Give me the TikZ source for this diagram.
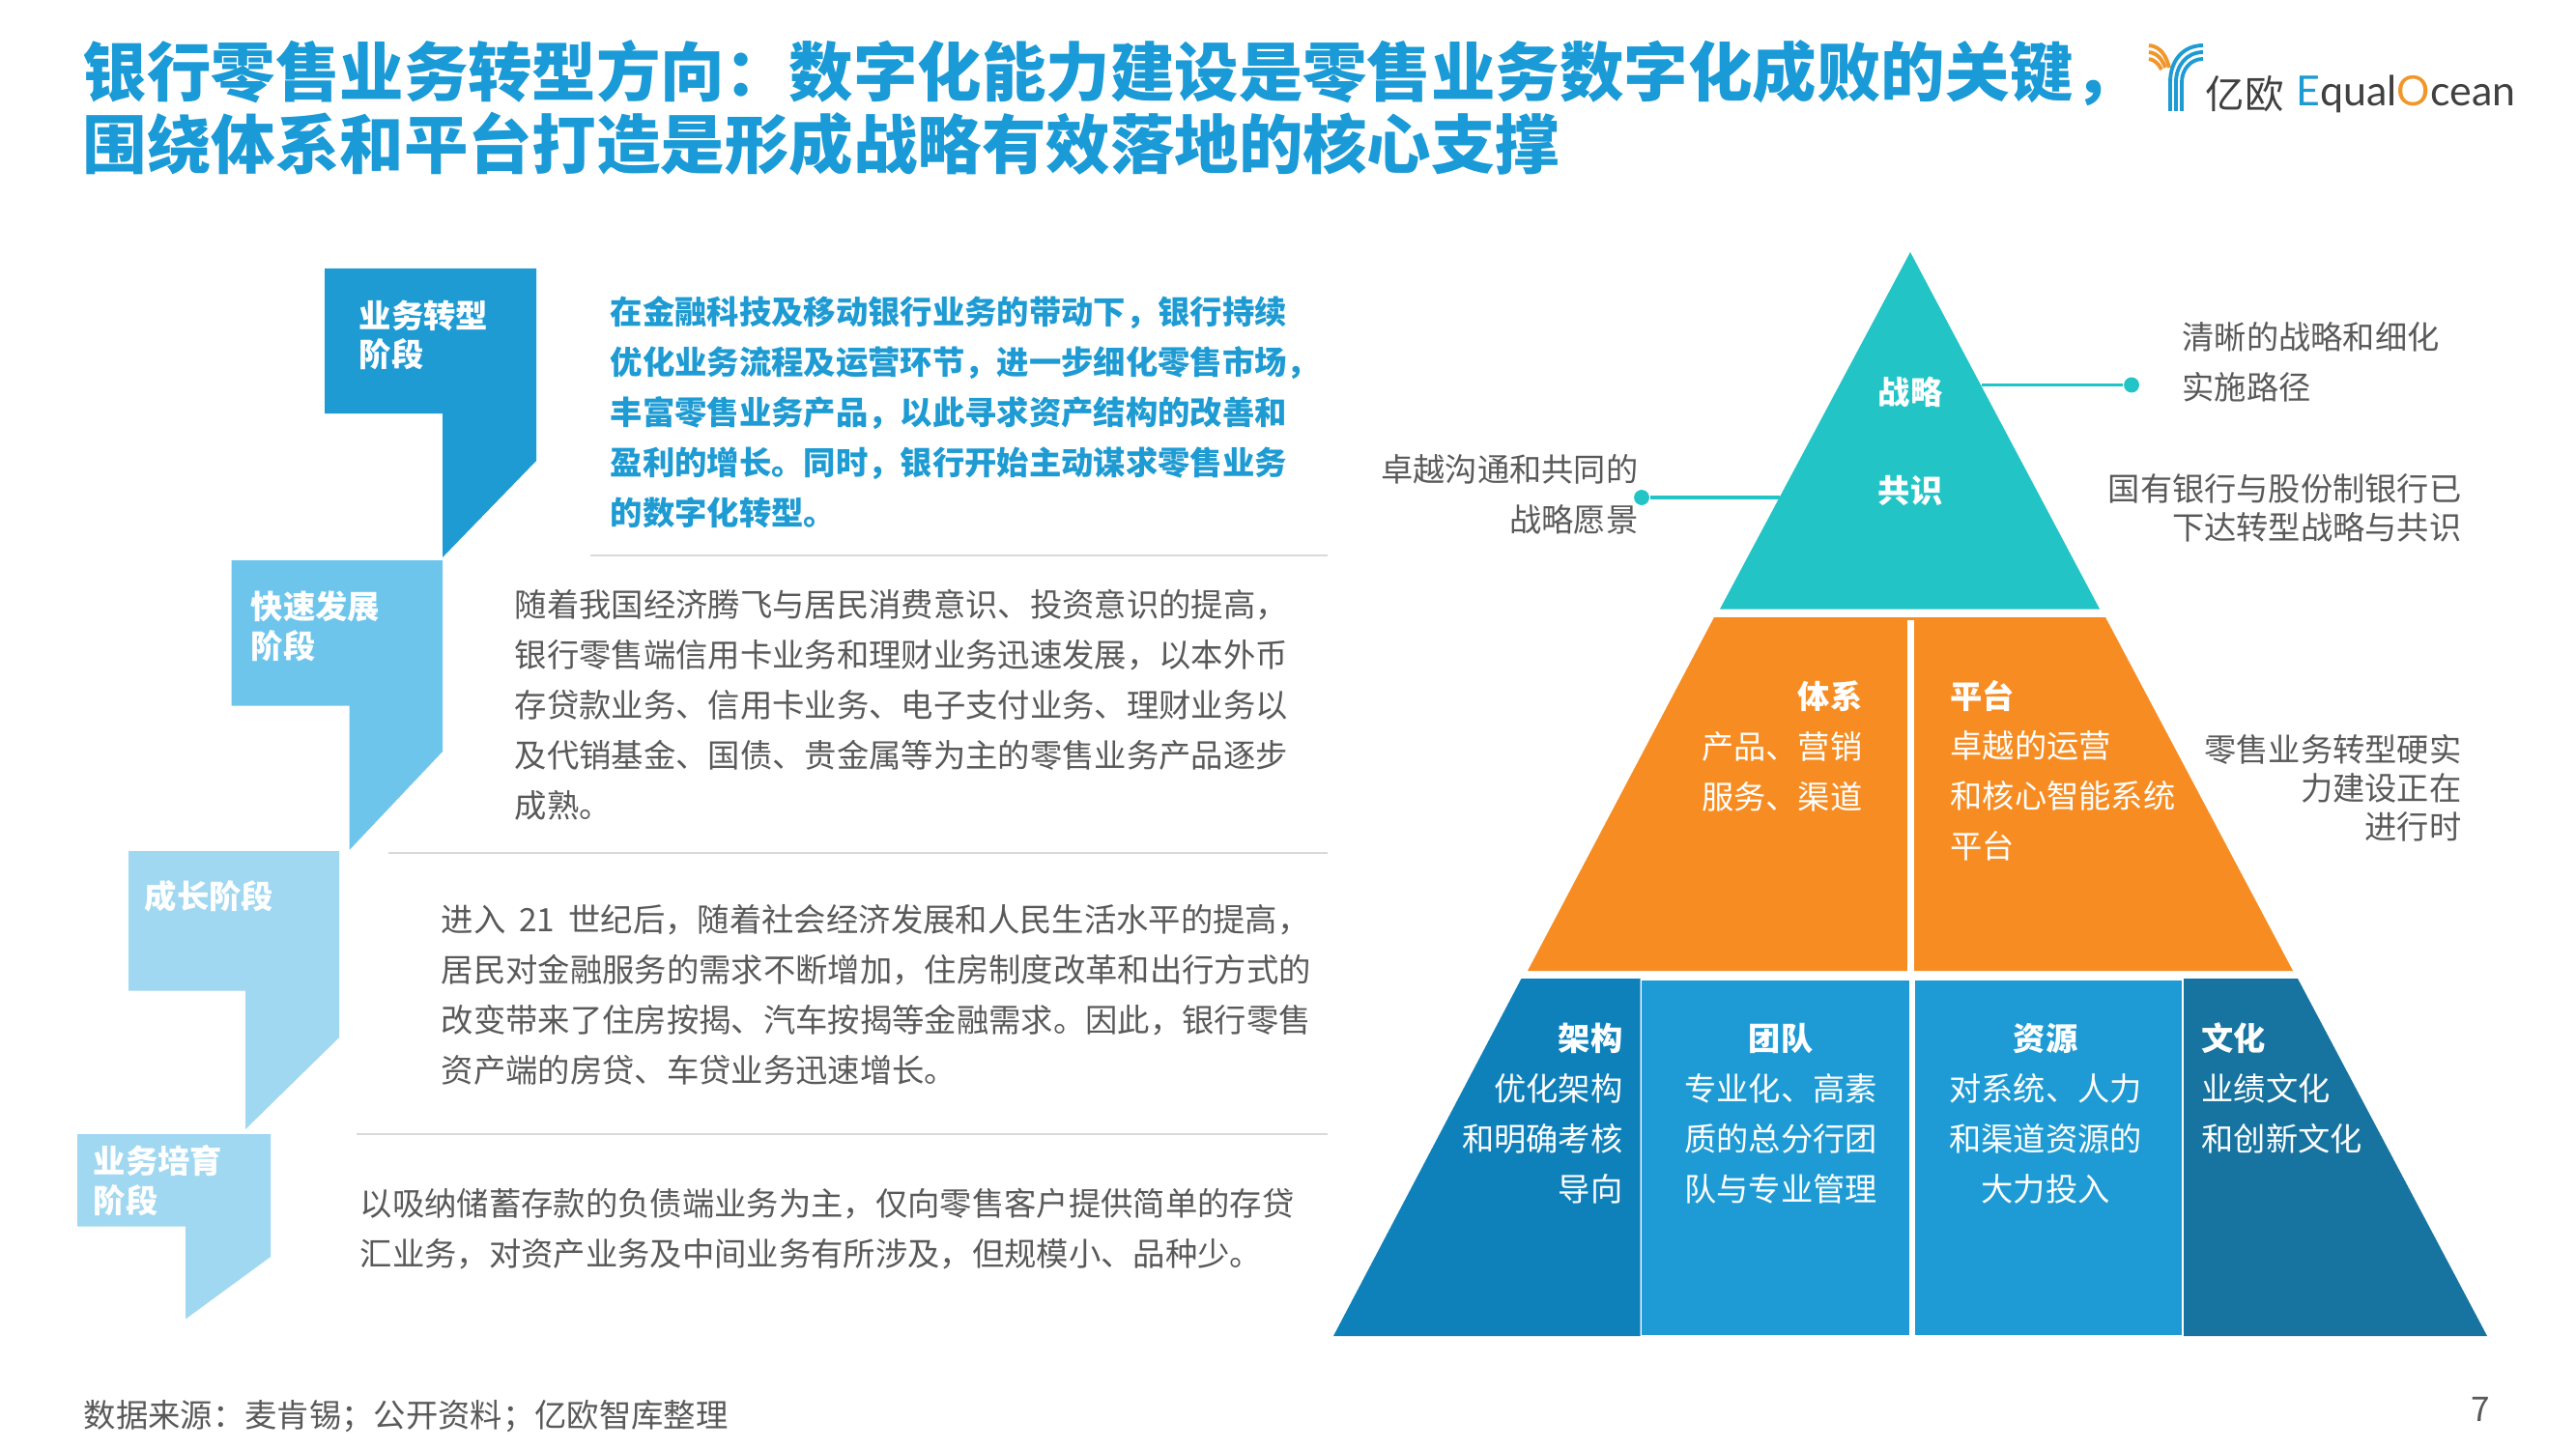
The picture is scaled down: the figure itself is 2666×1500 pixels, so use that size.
\documentclass[tikz,border=0pt]{standalone}
\usepackage{fontspec}
\setmainfont{Noto Sans CJK SC}
\newfontfamily\logofont{Lato}
\definecolor{titleblue}{HTML}{1A9AD6}
\definecolor{txtgray}{HTML}{595959}
\definecolor{stepa}{HTML}{1E9BD3}
\definecolor{stepb}{HTML}{6EC5EC}
\definecolor{stepc}{HTML}{A0D7F1}
\definecolor{topteal}{HTML}{22C4C6}
\definecolor{midorange}{HTML}{F78D22}
\definecolor{lowblue}{HTML}{1E9BD4}
\definecolor{lowleft}{HTML}{0F81BA}
\definecolor{lowright}{HTML}{17739F}
\definecolor{logoorange}{HTML}{F0962A}
\newcommand{\cnc}{^^^^ff0c}
\newcommand{\cnm}{^^^^ff1a}
\newcommand{\cns}{^^^^ff1b}
\tikzset{
  titletxt/.style={inner sep=0pt,anchor=west,align=left,color=titleblue,font=\fontsize{18.9}{21.3}\selectfont\bfseries},
  bodytxt/.style={inner sep=0pt,anchor=west,align=left,color=txtgray,font=\fontsize{9.48}{14.75}\selectfont},
  steptxt/.style={inner sep=0pt,anchor=west,align=left,color=white,font=\fontsize{9.48}{11.6}\selectfont\bfseries},
  sidetxt/.style={inner sep=0pt,color=txtgray,font=\fontsize{9.45}{14.75}\selectfont},
  tighttxt/.style={inner sep=0pt,anchor=east,align=right,color=txtgray,font=\fontsize{9.45}{11.4}\selectfont},
  pyrtxt/.style={inner sep=0pt,color=white,font=\fontsize{9.45}{14.75}\selectfont},
  pyrhead/.style={inner sep=0pt,color=white,font=\fontsize{9.45}{14.75}\selectfont\bfseries},
  rulegray/.style={color=black!15,line width=0.5pt},
  dotlink/.style={color=topteal,line width=1pt},
  enddot/.style={circle,fill=topteal,inner sep=0pt,minimum size=4.5pt},
  logoblue/.style={color=stepa,line width=1.1pt},
  logoarc/.style={color=logoorange,line width=1.1pt}
}
\begin{document}
\begin{tikzpicture}[x=0.01cm,y=-0.01cm]
    \useasboundingbox (0,0) rectangle (2666,1500);
    \fill [color=white] (0,0) rectangle (2666,1500);
    % title
    \node (headline) [titletxt] at (85,112) {银行零售业务转型方向\cnm 数字化能力建设是零售业务数字化成败的关键\cnc\\围绕体系和平台打造是形成战略有效落地的核心支撑};
    % logo
    \draw [logoarc] (2224,47) .. controls (2236,48) and (2242,58) .. (2245,70);
    \draw [logoarc] (2224,54) .. controls (2233,55) and (2238,62) .. (2241,70);
    \draw [logoarc] (2224,61) .. controls (2230,62) and (2234,66) .. (2237,72);
    \draw [logoblue] (2246,115) -- (2246,85) .. controls (2246,62) and (2260,47) .. (2280,47);
    \draw [logoblue] (2252,115) -- (2252,85) .. controls (2252,68) and (2263,54) .. (2280,54);
    \draw [logoblue] (2258,115) -- (2258,85) .. controls (2258,72) and (2267,61) .. (2280,61);
    \node (logocn) [inner sep=0pt,anchor=west,color=black!75,font=\fontsize{11.5}{12}\selectfont] at (2282,97) {亿欧};
    \node (logoen) [inner sep=0pt,anchor=west,color=black!75,font=\fontsize{12.2}{13}\logofont] at (2376,97) {\textcolor{stepa}{E}qual\textcolor{logoorange}{O}cean};
    % steps
    \fill [color=stepa] (336,278) -- (555,278) -- (555,477) -- (458,577) -- (458,428) -- (336,428) -- cycle;
    \fill [color=stepb] (239.5,580) -- (458,580) -- (458,778) -- (361.5,880) -- (361.5,730.5) -- (239.5,730.5) -- cycle;
    \fill [color=stepc] (133,881) -- (351,881) -- (351,1074) -- (254,1169) -- (254,1025.5) -- (133,1025.5) -- cycle;
    \fill [color=stepc] (80,1174) -- (280,1174) -- (280,1301) -- (192,1365.5) -- (192,1269.5) -- (80,1269.5) -- cycle;
    \node (stepfour) [steptxt] at (371,347) {业务转型\\阶段};
    \node (stepthree) [steptxt] at (259,648) {快速发展\\阶段};
    \node (steptwo) [steptxt] at (149,928) {成长阶段};
    \node (stepone) [steptxt] at (96,1222) {业务培育\\阶段};
    % paragraphs
    \node (parafour) [bodytxt,color=stepa,font=\fontsize{9.48}{14.75}\selectfont\bfseries] at (631,427) {在金融科技及移动银行业务的带动下\cnc 银行持续\\优化业务流程及运营环节\cnc 进一步细化零售市场\cnc\\丰富零售业务产品\cnc 以此寻求资产结构的改善和\\盈利的增长。同时\cnc 银行开始主动谋求零售业务\\的数字化转型。};
    \node (parathree) [bodytxt] at (532,730) {随着我国经济腾飞与居民消费意识、投资意识的提高\cnc\\银行零售端信用卡业务和理财业务迅速发展\cnc 以本外币\\存贷款业务、信用卡业务、电子支付业务、理财业务以\\及代销基金、国债、贵金属等为主的零售业务产品逐步\\成熟。};
    \node (paratwo) [bodytxt] at (456,1030) {进入\hspace{0.2em} 21 \hspace{0.2em}世纪后\cnc 随着社会经济发展和人民生活水平的提高\cnc\\居民对金融服务的需求不断增加\cnc 住房制度改革和出行方式的\\改变带来了住房按揭、汽车按揭等金融需求。因此\cnc 银行零售\\资产端的房贷、车贷业务迅速增长。};
    \node (paraone) [bodytxt] at (372,1272) {以吸纳储蓄存款的负债端业务为主\cnc 仅向零售客户提供简单的存贷\\汇业务\cnc 对资产业务及中间业务有所涉及\cnc 但规模小、品种少。};
    \draw [rulegray] (611,575) -- (1374,575);
    \draw [rulegray] (402,883) -- (1374,883);
    \draw [rulegray] (369,1174) -- (1374,1174);
    % pyramid
    \fill [color=topteal] (1977,261) -- (2173,630.5) -- (1780,630.5) -- cycle;
    \fill [color=midorange] (1774,639) -- (2179,639) -- (2373,1005) -- (1581,1005) -- cycle;
    \draw [color=white,line width=2pt] (1977.5,642) -- (1977.5,1006);
    \fill [color=lowleft] (1574.5,1013) -- (1697.5,1013) -- (1697.5,1383) -- (1380,1383) -- cycle;
    \fill [color=lowblue] (1699,1015) -- (1976,1015) -- (1976,1382) -- (1699,1382) -- cycle;
    \fill [color=lowblue] (1981.5,1015) -- (2258,1015) -- (2258,1382) -- (1981.5,1382) -- cycle;
    \fill [color=lowright] (2260,1013) -- (2378,1013) -- (2574,1383) -- (2260,1383) -- cycle;
    % labels in the pyramid
    \node (strategy) [pyrhead] at (1977,406) {战略};
    \node (consensus) [pyrhead] at (1977,508) {共识};
    \node (system) [pyrhead,anchor=east] at (1928,721) {体系};
    \node (systemtxt) [pyrtxt,anchor=east,align=right] at (1928,799) {产品、营销\\服务、渠道};
    \node (platform) [pyrhead,anchor=west] at (2018,720) {平台};
    \node (platformtxt) [pyrtxt,anchor=west,align=left] at (2018,824) {卓越的运营\\和核心智能系统\\平台};
    \node (frame) [pyrhead,anchor=east] at (1680,1075) {架构};
    \node (frametxt) [pyrtxt,anchor=east,align=right] at (1680,1179) {优化架构\\和明确考核\\导向};
    \node (team) [pyrhead] at (1843,1075) {团队};
    \node (teamtxt) [pyrtxt,align=center] at (1843,1179) {专业化、高素\\质的总分行团\\队与专业管理};
    \node (resource) [pyrhead] at (2117,1075) {资源};
    \node (resourcetxt) [pyrtxt,align=center] at (2117,1179) {对系统、人力\\和渠道资源的\\大力投入};
    \node (culture) [pyrhead,anchor=west] at (2278,1075) {文化};
    \node (culturetxt) [pyrtxt,anchor=west,align=left] at (2278,1153) {业绩文化\\和创新文化};
    % notes beside the pyramid
    \coordinate (edgeright) at (2051,398.5);
    \coordinate (edgeleft) at (1841.5,515);
    \node (dotright) [enddot] at (2206,398.5) {};
    \node (dotleft) [enddot] at (1699,515) {};
    \draw [dotlink] (edgeright) -- (dotright);
    \draw [dotlink] (edgeleft) -- (dotleft);
    \node (noteroad) [sidetxt,anchor=west,align=left] at (2258,375) {清晰的战略和细化\\实施路径};
    \node (notevision) [sidetxt,anchor=east,align=right] at (1696,512) {卓越沟通和共同的\\战略愿景};
    \node (notebanks) [tighttxt] at (2548,526) {国有银行与股份制银行已\\下达转型战略与共识};
    \node (notebuild) [tighttxt] at (2548,816) {零售业务转型硬实\\力建设正在\\进行时};
    % footer
    \node (source) [bodytxt] at (86,1466) {数据来源\cnm 麦肯锡\cns 公开资料\cns 亿欧智库整理};
    \node (pagenum) [inner sep=0pt,color=txtgray,font=\fontsize{10}{12}\selectfont] at (2567,1459) {7};
\end{tikzpicture}
\end{document}
